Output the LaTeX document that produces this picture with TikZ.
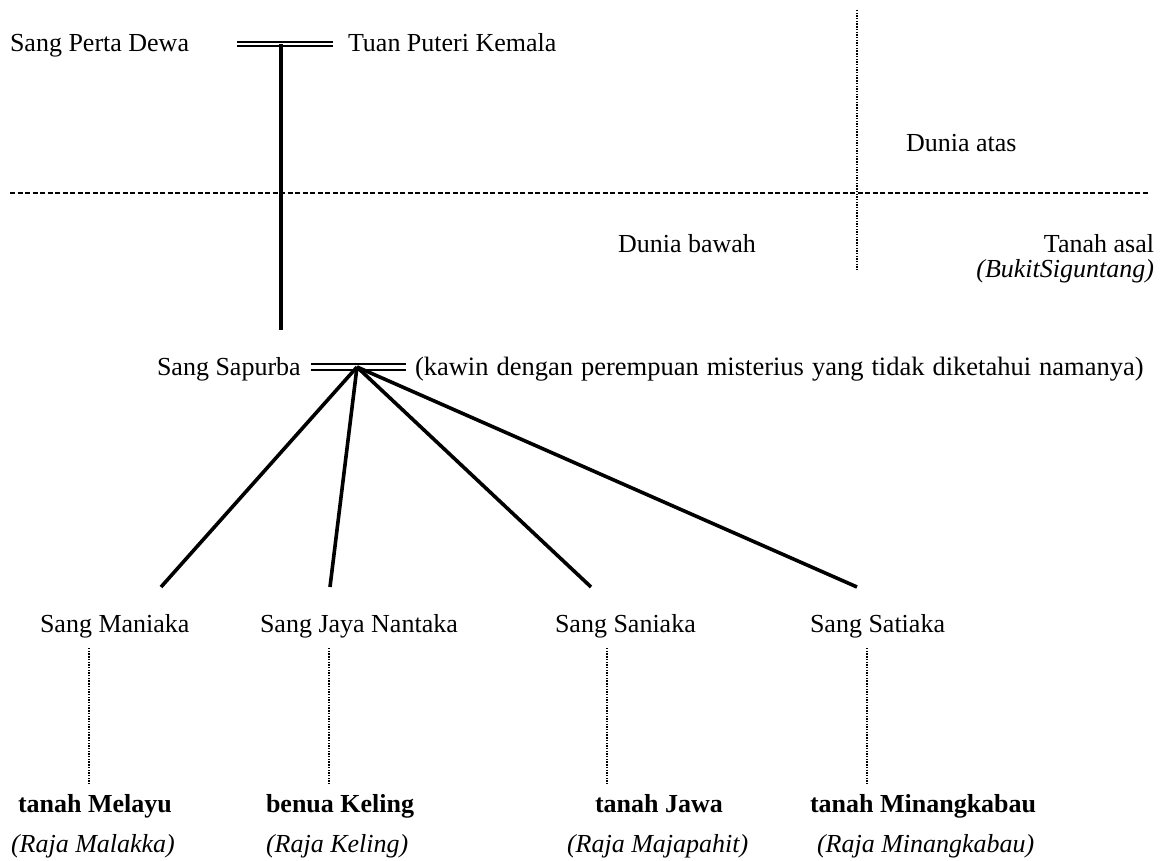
\documentclass[tikz,border=0pt]{standalone}
\usepackage{fontspec}
\setmainfont{Liberation Serif}
\newcommand\widewords{\spaceskip=8pt plus 1pt\relax}
\begin{document}
\begin{tikzpicture}[x=1pt,y=-1pt,
  every node/.style={inner sep=0pt,outer sep=0pt,anchor=base west,font=\fontsize{26}{30}\selectfont},
  bold/.style={font=\fontsize{26}{30}\selectfont\bfseries},
  ital/.style={font=\fontsize{26}{30}\selectfont\itshape},
  marriage/.style={draw=black,line width=1.8pt,double=white,double distance=2.7pt},
  descent/.style={draw=black,line width=3.6pt},
  realm/.style={draw=black,line width=1.3pt,dash pattern=on 5pt off 2.5pt},
  land/.style={draw=black,line width=1.6pt,dash pattern=on 1.4pt off 1.3pt}]
\useasboundingbox (0,0) rectangle (1169,861);

% first generation
\node (perta)  at (10,52)  {Sang Perta Dewa};
\node (puteri) at (348,52) {Tuan Puteri Kemala};
\coordinate (barL) at (237,44);
\coordinate (barR) at (333,44);
\coordinate (barM) at (281,44);
\draw[marriage] (barL) -- (barR);

% upper and lower worlds
\coordinate (vtop) at (857,10);
\coordinate (vbot) at (857,270);
\coordinate (hl) at (10,193);
\coordinate (hr) at (1148,193);
\draw[realm] (hl) -- (hr);
\draw[land] (vtop) -- (vbot);
\node (atas)  at (906,152) {Dunia atas};
\node[anchor=base] (bawah) at (687,252) {Dunia bawah};
\node[anchor=base east] (asal) at (1154,252) {Tanah asal};
\node[ital,anchor=base east] (bukit) at (1154,277) {(BukitSiguntang)};

% second generation
\coordinate (dropEnd) at (281,330);
\draw[descent] (barM) -- (dropEnd);
\node (sapurba) at (157,375) {Sang Sapurba};
\node[font=\fontsize{26.5}{30}\selectfont] (kawin) at (415,375) {\widewords (kawin dengan perempuan misterius yang tidak diketahui namanya)};
\coordinate (bar2L) at (311,367);
\coordinate (bar2R) at (406,367);
\coordinate (fan) at (357,367);
\draw[marriage,line width=2pt,double distance=3.5pt] (bar2L) -- (bar2R);

% children
\node (maniaka) at (40,632)  {Sang Maniaka};
\node (jaya)    at (260,632) {Sang Jaya Nantaka};
\node (saniaka) at (555,632) {Sang Saniaka};
\node (satiaka) at (810,632) {Sang Satiaka};
\coordinate (c1) at (161,587);
\coordinate (c2) at (330,587);
\coordinate (c3) at (591,587);
\coordinate (c4) at (857,587);
\foreach \c in {c1,c2,c3,c4} \draw[descent] (fan) -- (\c);

% lands and their rulers
\node[bold] (melayu) at (18,812)  {tanah Melayu};
\node[bold] (keling) at (266,812) {benua Keling};
\node[bold] (jawa)   at (595,812) {tanah Jawa};
\node[bold] (minang) at (810,812) {tanah Minangkabau};
\node[ital] (r1) at (11,852)  {(Raja Malakka)};
\node[ital] (r2) at (266,852) {(Raja Keling)};
\node[ital] (r3) at (567,852) {(Raja Majapahit)};
\node[ital] (r4) at (817,852) {(Raja Minangkabau)};
\coordinate (d1a) at (89,648);  \coordinate (d1b) at (89,784);
\coordinate (d2a) at (329,648); \coordinate (d2b) at (329,784);
\coordinate (d3a) at (607,648); \coordinate (d3b) at (607,784);
\coordinate (d4a) at (867,648); \coordinate (d4b) at (867,784);
\draw[land] (d1a) -- (d1b);
\draw[land] (d2a) -- (d2b);
\draw[land] (d3a) -- (d3b);
\draw[land] (d4a) -- (d4b);
\end{tikzpicture}
\end{document}
